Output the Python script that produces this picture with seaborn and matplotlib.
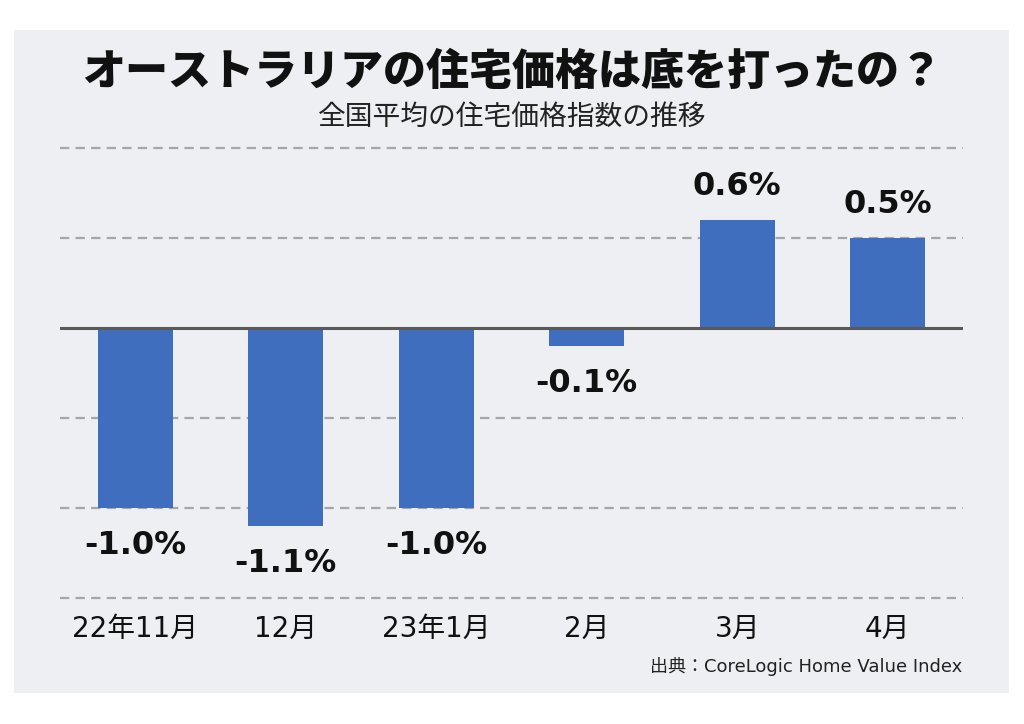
import matplotlib
matplotlib.use('Agg')
import matplotlib.pyplot as plt
import seaborn as sns
import pandas as pd
from matplotlib.patches import Rectangle

categories = ['22年11月', '12月', '23年1月', '2月', '3月', '4月']
values = [-1.0, -1.1, -1.0, -0.1, 0.6, 0.5]
value_labels = ['-1.0%', '-1.1%', '-1.0%', '-0.1%', '0.6%', '0.5%']
gridline_values = [1.0, 0.5, -0.5, -1.0, -1.5]
title = 'オーストラリアの住宅価格は底を打ったの？'
subtitle = '全国平均の住宅価格指数の推移'
source = '出典：CoreLogic Home Value Index'

BAR = '#3F6EBF'
PANEL = '#EEEFF3'
LATIN_FIRST = ['DejaVu Sans', 'Noto Sans CJK JP']

sns.set_theme(style='white')
plt.rcParams['font.family'] = ['Noto Sans CJK JP', 'DejaVu Sans']

W, H = 1024, 724
fig = plt.figure(figsize=(W / 100, H / 100), dpi=100, facecolor='white')
fig.patches.append(Rectangle((14 / W, 1 - 693 / H), (1009 - 14) / W, (693 - 30) / H,
                             transform=fig.transFigure, facecolor=PANEL,
                             edgecolor='none', zorder=-10))

ax = fig.add_axes([60 / W, 1 - 598 / H, 903 / W, 450 / H])
ax.set_facecolor('none')
ax.set_zorder(1)

df = pd.DataFrame({'month': categories, 'change': values})
sns.barplot(data=df, x='month', y='change', order=categories, color=BAR,
            saturation=1, width=0.5, errorbar=None, ax=ax, zorder=3,
            linewidth=0, edgecolor=BAR)

ax.set_xlim(-0.5, 5.5)
ax.set_ylim(-1.5, 1.0)
for g in gridline_values:
    ax.axhline(g, color='#A6A6A6', lw=1.6, ls=(0, (4.2, 2.8)), clip_on=False, zorder=1)
ax.axhline(0, color='#595959', lw=2.2, zorder=4)

for s in ax.spines.values():
    s.set_visible(False)
ax.set_yticks([])
ax.set_xlabel('')
ax.set_ylabel('')
ax.tick_params(axis='x', length=0, pad=12, labelsize=20, colors='#111111')
for t in ax.get_xticklabels():
    t.set_family(LATIN_FIRST)

for i, (v, lab) in enumerate(zip(values, value_labels)):
    if v >= 0:
        ax.annotate(lab, (i, v), xytext=(0, 13), textcoords='offset points',
                    ha='center', va='bottom', fontsize=23, fontweight='bold',
                    family='DejaVu Sans', color='#111111', zorder=5)
    else:
        ax.annotate(lab, (i, v), xytext=(0, -16), textcoords='offset points',
                    ha='center', va='top', fontsize=23, fontweight='bold',
                    family='DejaVu Sans', color='#111111', zorder=5)

fig.text(0.5, 1 - 72 / H, title, ha='center', va='center', fontsize=31,
         fontweight='black', color='#111111')
fig.text(0.5, 1 - 117 / H, subtitle, ha='center', va='center', fontsize=20,
         color='#222222')
fig.text(962 / W, 1 - 667 / H, source, ha='right', va='center', fontsize=13,
         color='#222222', family=LATIN_FIRST)

fig.savefig('out.png', dpi=100, facecolor='white')
